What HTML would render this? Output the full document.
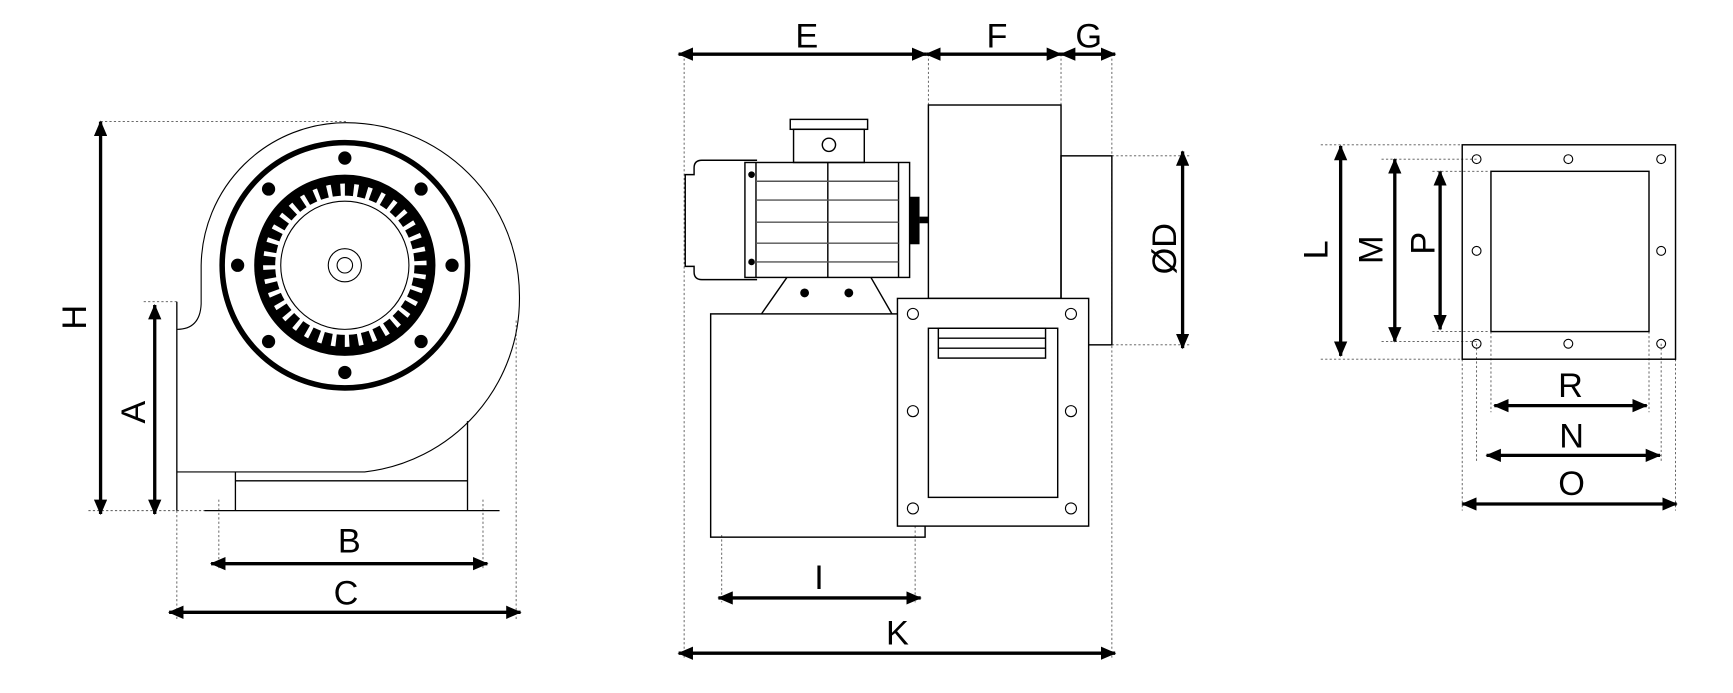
<!DOCTYPE html>
<html><head><meta charset="utf-8"><style>html,body{margin:0;padding:0;background:#fff}svg{display:block}</style></head>
<body>
<svg width="1733" height="693" viewBox="0 0 1568 627" xmlns="http://www.w3.org/2000/svg" font-family="Liberation Sans, sans-serif">
<defs>
<marker id="a" viewBox="0 0 14 12" refX="13" refY="6" markerWidth="14" markerHeight="12" markerUnits="userSpaceOnUse" orient="auto-start-reverse"><path d="M0,0 L14,6 L0,12 z" fill="#000"/></marker>
</defs>
<g fill="none" stroke="#000">
<g stroke-width="0.8" stroke-dasharray="2,2" stroke="#555">
<line x1="91" y1="110" x2="315" y2="110"/><line x1="80" y1="462" x2="185" y2="462"/><line x1="130" y1="273" x2="160" y2="273"/>
<line x1="160" y1="462" x2="160" y2="560"/><line x1="198" y1="452" x2="198" y2="515"/><line x1="437" y1="452" x2="437" y2="515"/><line x1="467" y1="290" x2="467" y2="560"/>
<line x1="619" y1="49" x2="619" y2="595"/><line x1="840" y1="49" x2="840" y2="95"/><line x1="960" y1="49" x2="960" y2="140"/><line x1="1006" y1="49" x2="1006" y2="595"/>
<line x1="1006" y1="141" x2="1078" y2="141"/><line x1="1006" y1="312" x2="1078" y2="312"/>
<line x1="653" y1="484" x2="653" y2="545"/><line x1="828" y1="476" x2="828" y2="545"/>
<line x1="1195" y1="131" x2="1323" y2="131"/><line x1="1250" y1="144" x2="1336" y2="144"/><line x1="1296" y1="155" x2="1347" y2="155"/>
<line x1="1296" y1="300" x2="1347" y2="300"/><line x1="1250" y1="309" x2="1336" y2="309"/><line x1="1195" y1="325" x2="1323" y2="325"/>
<line x1="1323" y1="325" x2="1323" y2="462"/><line x1="1336" y1="311" x2="1336" y2="418"/><line x1="1349" y1="300" x2="1349" y2="373"/>
<line x1="1492" y1="300" x2="1492" y2="373"/><line x1="1503" y1="311" x2="1503" y2="418"/><line x1="1516" y1="325" x2="1516" y2="462"/>
</g>
<path d="M160,298 Q181,298 182,275 L182,240 A131,131 0 0 1 313,111 A157,157 0 0 1 470,268 A158,158 0 0 1 330,427 L160,427" stroke-width="1"/>
<line x1="160" y1="273" x2="160" y2="462" stroke-width="1.2"/>
<line x1="213" y1="435" x2="423" y2="435" stroke-width="1.2"/>
<line x1="213" y1="427" x2="213" y2="462" stroke-width="1.2"/>
<line x1="423" y1="381" x2="423" y2="462" stroke-width="1.2"/>
<line x1="185" y1="462" x2="452" y2="462" stroke-width="1.2"/>
<circle cx="312" cy="240" r="111" stroke-width="5"/>
<circle cx="312" cy="240" r="78" stroke-width="8"/>
<circle cx="312" cy="240" r="69" stroke-width="12" stroke-dasharray="8,4.04"/>
</g>
<g fill="#000">
<circle cx="312" cy="143" r="6"/><circle cx="312" cy="337" r="6"/><circle cx="215" cy="240" r="6"/><circle cx="409" cy="240" r="6"/>
<circle cx="243" cy="171" r="6"/><circle cx="381" cy="171" r="6"/><circle cx="243" cy="309" r="6"/><circle cx="381" cy="309" r="6"/>
</g>
<g fill="#fff" stroke="#000" stroke-width="1"><circle cx="312" cy="240" r="58"/><circle cx="312" cy="240" r="15"/><circle cx="312" cy="240" r="7"/></g>
<g fill="none" stroke="#000" stroke-width="1.3">
<rect x="840" y="95" width="120" height="175"/>
<rect x="960" y="141" width="46" height="171"/>
<path d="M685,145 L635,145 Q628,145 628,152 L628,158 L620,158 L620,241 L628,241 L628,246 Q628,253 635,253 L685,253"/>
<rect x="674" y="147" width="149" height="104"/>
<line x1="684" y1="147" x2="684" y2="251"/><line x1="813" y1="147" x2="813" y2="251"/><line x1="749" y1="147" x2="749" y2="251"/>
<g stroke="#555"><line x1="684" y1="164" x2="813" y2="164"/><line x1="684" y1="181" x2="813" y2="181"/><line x1="684" y1="201" x2="813" y2="201"/><line x1="684" y1="220" x2="813" y2="220"/><line x1="684" y1="237" x2="813" y2="237"/></g>
<rect x="718" y="117" width="64" height="30"/><rect x="715" y="108" width="70" height="9"/>
<circle cx="750" cy="131" r="6"/>
<path d="M712,251 L689,284 M788,251 L807,284"/>
<rect x="643" y="284" width="194" height="202"/>
<rect x="812" y="270" width="173" height="206" fill="#fff"/>
<rect x="840" y="297" width="117" height="153"/>
<rect x="849" y="297" width="97" height="27"/><line x1="849" y1="306" x2="946" y2="306"/><line x1="849" y1="315" x2="946" y2="315"/>
<g stroke-width="1"><circle cx="826" cy="284" r="5"/><circle cx="969" cy="284" r="5"/><circle cx="826" cy="372" r="5"/><circle cx="969" cy="372" r="5"/><circle cx="826" cy="460" r="5"/><circle cx="969" cy="460" r="5"/></g>
</g>
<g fill="#000"><rect x="823" y="178" width="9" height="43"/><rect x="832" y="196" width="8" height="6"/>
<circle cx="680" cy="158" r="3"/><circle cx="680" cy="237" r="3"/><circle cx="728" cy="265" r="4"/><circle cx="768" cy="265" r="4"/></g>
<g fill="none" stroke="#000" stroke-width="1.3">
<rect x="1323" y="131" width="193" height="194"/>
<rect x="1349" y="155" width="143" height="145"/>
<g stroke-width="1"><circle cx="1336" cy="144" r="4"/><circle cx="1419" cy="144" r="4"/><circle cx="1503" cy="144" r="4"/><circle cx="1336" cy="227" r="4"/><circle cx="1503" cy="227" r="4"/><circle cx="1336" cy="311" r="4"/><circle cx="1419" cy="311" r="4"/><circle cx="1503" cy="311" r="4"/></g>
</g>
<g stroke="#000" stroke-width="3" marker-start="url(#a)" marker-end="url(#a)">
<line x1="91" y1="110" x2="91" y2="465"/><line x1="140" y1="276" x2="140" y2="465"/>
<line x1="191" y1="510" x2="441" y2="510"/><line x1="153" y1="554" x2="471" y2="554"/>
<line x1="614" y1="49" x2="838" y2="49"/><line x1="838" y1="49" x2="960" y2="49"/><line x1="960" y1="49" x2="1009" y2="49"/>
<line x1="1070" y1="137" x2="1070" y2="315"/>
<line x1="650" y1="541" x2="833" y2="541"/><line x1="614" y1="591" x2="1009" y2="591"/>
<line x1="1213" y1="132" x2="1213" y2="322"/><line x1="1262" y1="144" x2="1262" y2="309"/><line x1="1303" y1="155" x2="1303" y2="298"/>
<line x1="1352" y1="367" x2="1490" y2="367"/><line x1="1345" y1="412" x2="1502" y2="412"/><line x1="1323" y1="456" x2="1517" y2="456"/>
</g>
<g font-size="31" fill="#000" text-anchor="middle">
<text x="316" y="500">B</text><text x="313" y="547">C</text>
<text x="730" y="43">E</text><text x="902" y="43">F</text><text x="985" y="43">G</text>
<text x="741" y="533">I</text><text x="812" y="583">K</text>
<text x="1421" y="359">R</text><text x="1422" y="405">N</text><text x="1422" y="448">O</text>
<text transform="translate(78,287) rotate(-90)">H</text>
<text transform="translate(131,373) rotate(-90)">A</text>
<text transform="translate(1064,225) rotate(-90)">ØD</text>
<text transform="translate(1201,226) rotate(-90)">L</text>
<text transform="translate(1251,226) rotate(-90)">M</text>
<text transform="translate(1298,220) rotate(-90)">P</text>
</g>
</svg>
</body></html>
